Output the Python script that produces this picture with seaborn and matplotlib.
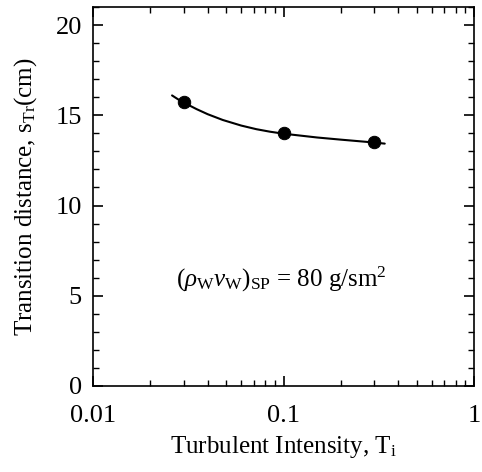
import matplotlib
matplotlib.use("Agg")
import matplotlib.pyplot as plt
import seaborn as sns
import numpy as np
from matplotlib.ticker import MultipleLocator, LogLocator, FixedLocator, NullFormatter

sns.set_theme(style="ticks")
plt.rcParams['font.family'] = ['Liberation Serif', 'DejaVu Serif']
plt.rcParams['mathtext.fontset'] = 'custom'
plt.rcParams['mathtext.rm'] = 'Liberation Serif'
plt.rcParams['mathtext.it'] = 'Liberation Serif:italic'
plt.rcParams['text.color'] = 'black'
plt.rcParams['axes.labelcolor'] = 'black'
plt.rcParams['xtick.color'] = 'black'
plt.rcParams['ytick.color'] = 'black'

# measured points
ti_points = [0.03, 0.1, 0.3]
s_points = [15.75, 14.0, 13.5]

# fitted curve
ti_curve = [0.026, 0.028, 0.03, 0.035, 0.04, 0.048, 0.06, 0.072, 0.085, 0.1, 0.15, 0.2, 0.3, 0.34]
s_curve = [16.1, 15.88, 15.7, 15.34, 15.06, 14.74, 14.43, 14.23, 14.09, 13.98, 13.77, 13.65, 13.49, 13.43]

x_ticks = [0.01, 0.1, 1]
x_ticklabels = ["0.01", "0.1", "1"]
y_ticks = [0, 5, 10, 15, 20]

fig = plt.figure(figsize=(4.82, 4.72), dpi=100)
ax = fig.add_axes([93/482, 1-386/472, (474-93)/482, (386-7)/472])

sns.lineplot(x=ti_curve, y=s_curve, ax=ax, color="black", lw=1.5, sort=False)
sns.scatterplot(x=ti_points, y=s_points, ax=ax, color="black", s=80, edgecolor="black", zorder=5)

ax.set_xscale("log")
ax.set_xlim(0.01, 1)
ax.set_ylim(0, 21)
ax.xaxis.set_major_locator(FixedLocator(x_ticks))
ax.set_xticklabels(x_ticklabels)
ax.xaxis.set_minor_locator(LogLocator(base=10, subs=np.arange(2, 10)))
ax.xaxis.set_minor_formatter(NullFormatter())
ax.yaxis.set_major_locator(FixedLocator(y_ticks))
ax.yaxis.set_minor_locator(MultipleLocator(1))

ax.tick_params(which="both", direction="in", top=True, right=True, labelsize=19, color="black")
ax.tick_params(which="major", length=7, width=1.2)
ax.tick_params(axis="x", which="major", pad=14)
ax.tick_params(axis="y", which="major", pad=8)
ax.tick_params(which="minor", length=4, width=1.0)
for sp in ax.spines.values():
    sp.set_linewidth(1.2)
    sp.set_color("black")

ax.set_xlabel("Turbulent Intensity, T$_{\\mathregular{i}}$", fontsize=18, labelpad=5)
ax.set_ylabel("Transition distance, s$_{\\mathregular{Tr}}$(cm)", fontsize=18, labelpad=12)

ax.text(0.218, 0.28, "($\\rho_{\\mathregular{W}}\\nu_{\\mathregular{W}}$)$_{\\mathregular{SP}}$ = 80 g/sm$^{\\mathregular{2}}$",
        transform=ax.transAxes, fontsize=18, ha="left", va="center")

fig.savefig("out.png", dpi=100, facecolor="white")
